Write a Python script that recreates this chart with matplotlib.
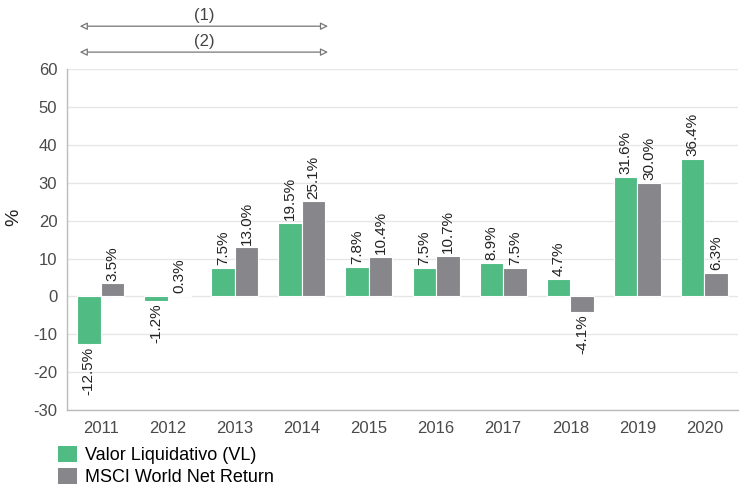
import numpy as np
import matplotlib.pyplot as plt
from matplotlib.patches import Patch

plt.rcParams['font.family'] = ['Liberation Sans', 'DejaVu Sans']
plt.rcParams['axes.unicode_minus'] = False

years = ['2011', '2012', '2013', '2014', '2015', '2016', '2017', '2018', '2019', '2020']
vl = [-12.5, -1.2, 7.5, 19.5, 7.8, 7.5, 8.9, 4.7, 31.6, 36.4]
msci = [3.5, 0.3, 13.0, 25.1, 10.4, 10.7, 7.5, -4.1, 30.0, 6.3]
series_names = ['Valor Liquidativo (VL)', 'MSCI World Net Return']
notes = ['(1)', '(2)']

green = '#50bc84'
grey = '#87878b'

fig = plt.figure(figsize=(7.43, 4.87), dpi=100)
ax = fig.add_axes([0.0902, 0.158, 0.903, 0.700])

x = np.arange(len(years))
w = 0.35
ax.bar(x - w / 2, vl, width=w, color=green, edgecolor='white', linewidth=0.8, zorder=3)
ax.bar(x + w / 2, msci, width=w, color=grey, edgecolor='white', linewidth=0.8, zorder=3)

# value labels, rotated
for xs, vals in ((x - w / 2, vl), (x + w / 2, msci)):
    for xi, v in zip(xs, vals):
        if v >= 0:
            ax.text(xi, v + 0.7, f'{v:.1f}%', rotation=90, ha='center', va='bottom',
                    fontsize=11, color='#222222', zorder=4)
        else:
            ax.text(xi, v - 0.7, f'{v:.1f}%', rotation=90, ha='center', va='top',
                    fontsize=11, color='#222222', zorder=4)

ax.set_xlim(-0.5, len(years) - 0.5)
ax.set_ylim(-30, 60)
ax.set_yticks(np.arange(-30, 61, 10))
ax.set_xticks(x)
ax.set_xticklabels(years)
ax.tick_params(axis='both', length=0, labelsize=12, colors='#4a4a4a')
ax.tick_params(axis='x', pad=8)
ax.tick_params(axis='y', pad=7)
fig.text(14 / 743, 1 - 217 / 487, '%', rotation=90, ha='center', va='center',
         fontsize=14, color='#222222')

ax.grid(axis='y', color='#e6e6e6', linewidth=1, zorder=0)
for s in ('top', 'right'):
    ax.spines[s].set_visible(False)
for s in ('left', 'bottom'):
    ax.spines[s].set_color('#bbbbbb')
    ax.spines[s].set_linewidth(1)

# period arrows above the plot
for yarr, note in zip([1.126, 1.05], notes):
    ax.annotate('', xy=(3.39, yarr), xytext=(-0.31, yarr),
                xycoords=('data', 'axes fraction'),
                arrowprops=dict(arrowstyle='<|-|>', fc='white', ec='#777777',
                                lw=0.9, mutation_scale=11, shrinkA=0, shrinkB=0),
                annotation_clip=False)
    ax.text(1.54, yarr + 0.01, note, transform=ax.get_xaxis_transform(),
            ha='center', va='bottom', fontsize=12, color='#444444')

handles = [Patch(facecolor=green, edgecolor='none'), Patch(facecolor=grey, edgecolor='none')]
fig.legend(handles, series_names, loc='upper left', bbox_to_anchor=(0.078, 0.085),
           frameon=False, fontsize=13, handlelength=1.05, handleheight=1.0,
           handletextpad=0.45, labelspacing=0.22, borderpad=0, borderaxespad=0)

fig.savefig('out.png', dpi=100)
